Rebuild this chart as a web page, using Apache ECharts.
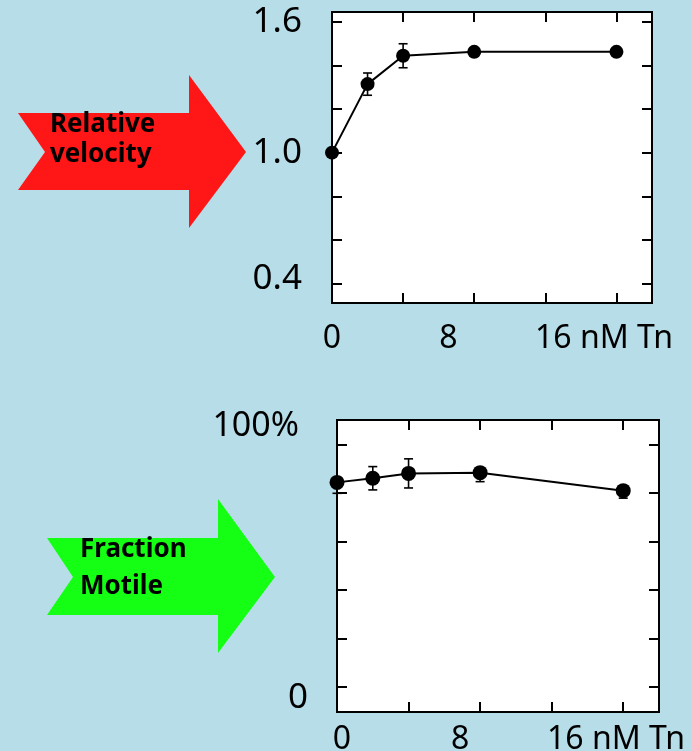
<!DOCTYPE html>
<html>
<head>
<meta charset="utf-8">
<script src="https://cdn.jsdelivr.net/npm/echarts@6/dist/echarts.min.js"></script>
<style>
  html, body { margin: 0; padding: 0; background: #b7dde8; }
  #chart { width: 691px; height: 751px; }
</style>
</head>
<body>
<div id="chart"></div>
<script>
// ---- data ----
const concentrations = [0, 2, 4, 8, 16];           // nM Tn
const velocity = [1.0, 1.314, 1.444, 1.462, 1.462]; // relative velocity
const velocityErr = [0, 0.051, 0.055, 0, 0];
const fractionMotile = [84.3, 86.0, 88.0, 88.3, 80.9]; // %
const fractionErrLow = [4.5, 4.8, 6.0, 3.7, 3.1];
const fractionErrHigh = [0, 4.8, 6.0, 0, 0];
const xTickLabels = ['0', '8', '16 nM Tn'];
const velocityTickLabels = ['0.4', '1.0', '1.6'];
const fractionTickLabels = ['0', '100%'];
const xTicks = [4, 8, 12, 16];
const velocityTicks = [0.4, 0.6, 0.8, 1.0, 1.2, 1.4, 1.6];
const fractionTicks = [0, 20, 40, 60, 80, 100];

// ---- layout helpers (positions of hand-placed labels, in axis units) ----
const xLabelPosTop = [0, 6.55, 15.3];
const xLabelPosBottom = [0.28, 6.88, 15.6];
const velLabelPos = [0.42, 1.0, 1.6];
const fracLabelPos = [-4.5, 107.3];

const FONT = '"Noto Sans", "Open Sans", sans-serif';

function nearestLabel(positions, labels) {
  return function (v) {
    let best = 0, d = Infinity;
    positions.forEach((p, i) => { const dd = Math.abs(p - v); if (dd < d) { d = dd; best = i; } });
    return labels[best];
  };
}

function ticks(values) {
  return { show: true, inside: true, length: 10, customValues: values, lineStyle: { color: '#000', width: 2 } };
}

function tickAxis(extra) {
  return Object.assign({
    type: 'value',
    axisLine: { show: false, onZero: false },
    splitLine: { show: false },
    axisLabel: { show: false }
  }, extra);
}

function errorBarRender(params, api) {
  const x = api.value(0), y = api.value(1), lo = api.value(2), hi = api.value(3);
  const top = api.coord([x, y + hi]);
  const bot = api.coord([x, y - lo]);
  const hw = 4.5;
  const style = { stroke: '#000', lineWidth: 1.6 };
  const children = [{ type: 'line', shape: { x1: top[0], y1: top[1], x2: bot[0], y2: bot[1] }, style }];
  if (hi > 0) children.push({ type: 'line', shape: { x1: top[0] - hw, y1: top[1], x2: top[0] + hw, y2: top[1] }, style });
  if (lo > 0) children.push({ type: 'line', shape: { x1: bot[0] - hw, y1: bot[1], x2: bot[0] + hw, y2: bot[1] }, style });
  return { type: 'group', children };
}

const chart = echarts.init(document.getElementById('chart'), null, { renderer: 'canvas' });

const option = {
  backgroundColor: '#b7dde8',
  animation: false,
  grid: [
    { left: 332, top: 12, width: 320, height: 291, show: true, backgroundColor: '#fff', borderColor: '#000', borderWidth: 2, containLabel: false, outerBoundsMode: 'none' },
    { left: 337, top: 420, width: 322, height: 292, show: true, backgroundColor: '#fff', borderColor: '#000', borderWidth: 2, containLabel: false, outerBoundsMode: 'none' }
  ],
  xAxis: [
    tickAxis({
      gridIndex: 0, position: 'bottom', min: 0, max: 18, axisTick: ticks(xTicks),
      axisLabel: {
        show: true, customValues: xLabelPosTop, formatter: nearestLabel(xLabelPosTop, xTickLabels),
        color: '#000', fontSize: 32, fontFamily: FONT, margin: 20
      }
    }),
    tickAxis({ gridIndex: 0, position: 'top', min: 0, max: 18, axisTick: ticks(xTicks) }),
    tickAxis({
      gridIndex: 1, position: 'bottom', min: 0, max: 18, axisTick: ticks(xTicks),
      axisLabel: {
        show: true, customValues: xLabelPosBottom, formatter: nearestLabel(xLabelPosBottom, xTickLabels),
        color: '#000', fontSize: 32, fontFamily: FONT, margin: 12
      }
    }),
    tickAxis({ gridIndex: 1, position: 'top', min: 0, max: 18, axisTick: ticks(xTicks) })
  ],
  yAxis: [
    tickAxis({
      gridIndex: 0, position: 'left', min: 0.311, max: 1.6445, axisTick: ticks(velocityTicks),
      axisLabel: {
        show: true, customValues: velLabelPos, formatter: nearestLabel(velLabelPos, velocityTickLabels),
        color: '#000', fontSize: 35, fontFamily: FONT, margin: 30
      }
    }),
    tickAxis({ gridIndex: 0, position: 'right', min: 0.311, max: 1.6445, axisTick: ticks(velocityTicks) }),
    tickAxis({
      gridIndex: 1, position: 'left', min: -10.3, max: 110, axisTick: ticks(fractionTicks),
      axisLabel: {
        show: true, customValues: fracLabelPos,
        formatter: function (v) {
          const t = nearestLabel(fracLabelPos, fractionTickLabels)(v);
          return t === '100%' ? '{w|' + t + '}' : '{n|' + t + '}';
        },
        rich: {
          w: { color: '#000', fontSize: 34, fontFamily: FONT, padding: [0, 9, 0, 0] },
          n: { color: '#000', fontSize: 35, fontFamily: FONT }
        },
        color: '#000', fontSize: 35, fontFamily: FONT, margin: 29
      }
    }),
    tickAxis({ gridIndex: 1, position: 'right', min: -10.3, max: 110, axisTick: ticks(fractionTicks) })
  ],
  series: [
    {
      type: 'custom', xAxisIndex: 0, yAxisIndex: 0, renderItem: errorBarRender, clip: false, z: 4,
      encode: { x: 0, y: 1 },
      data: concentrations.map((x, i) => [x, velocity[i], velocityErr[i], velocityErr[i]])
    },
    {
      type: 'line', xAxisIndex: 0, yAxisIndex: 0, clip: false, z: 3,
      symbol: 'circle', symbolSize: 14,
      itemStyle: { color: '#000' }, lineStyle: { color: '#000', width: 2 },
      data: concentrations.map((x, i) => [x, velocity[i]])
    },
    {
      type: 'custom', xAxisIndex: 2, yAxisIndex: 2, renderItem: errorBarRender, clip: false, z: 4,
      encode: { x: 0, y: 1 },
      data: concentrations.map((x, i) => [x, fractionMotile[i], fractionErrLow[i], fractionErrHigh[i]])
    },
    {
      type: 'line', xAxisIndex: 2, yAxisIndex: 2, clip: false, z: 3,
      symbol: 'circle', symbolSize: 15,
      itemStyle: { color: '#000' }, lineStyle: { color: '#000', width: 2 },
      data: concentrations.map((x, i) => [x, fractionMotile[i]])
    }
  ],
  graphic: [
    {
      type: 'polygon', z: 1,
      shape: { points: [[18, 113], [189, 113], [189, 75], [246, 152], [189, 228], [189, 190], [18, 190], [45, 152]] },
      style: { fill: '#ff1616' }
    },
    { type: 'text', z: 2, x: 50, y: 125, style: { text: 'Relative', font: 'bold 26px ' + FONT, fill: '#000', verticalAlign: 'middle' } },
    { type: 'text', z: 2, x: 50, y: 155, style: { text: 'velocity', font: 'bold 26px ' + FONT, fill: '#000', verticalAlign: 'middle' } },
    {
      type: 'polygon', z: 1,
      shape: { points: [[47, 538], [218, 538], [218, 499], [275, 577], [218, 653], [218, 615], [47, 615], [73, 577]] },
      style: { fill: '#14ff14' }
    },
    { type: 'text', z: 2, x: 80, y: 550, style: { text: 'Fraction', font: 'bold 26px ' + FONT, fill: '#000', verticalAlign: 'middle' } },
    { type: 'text', z: 2, x: 80, y: 587, style: { text: 'Motile', font: 'bold 26px ' + FONT, fill: '#000', verticalAlign: 'middle' } }
  ]
};

chart.setOption(option);
</script>
</body>
</html>
